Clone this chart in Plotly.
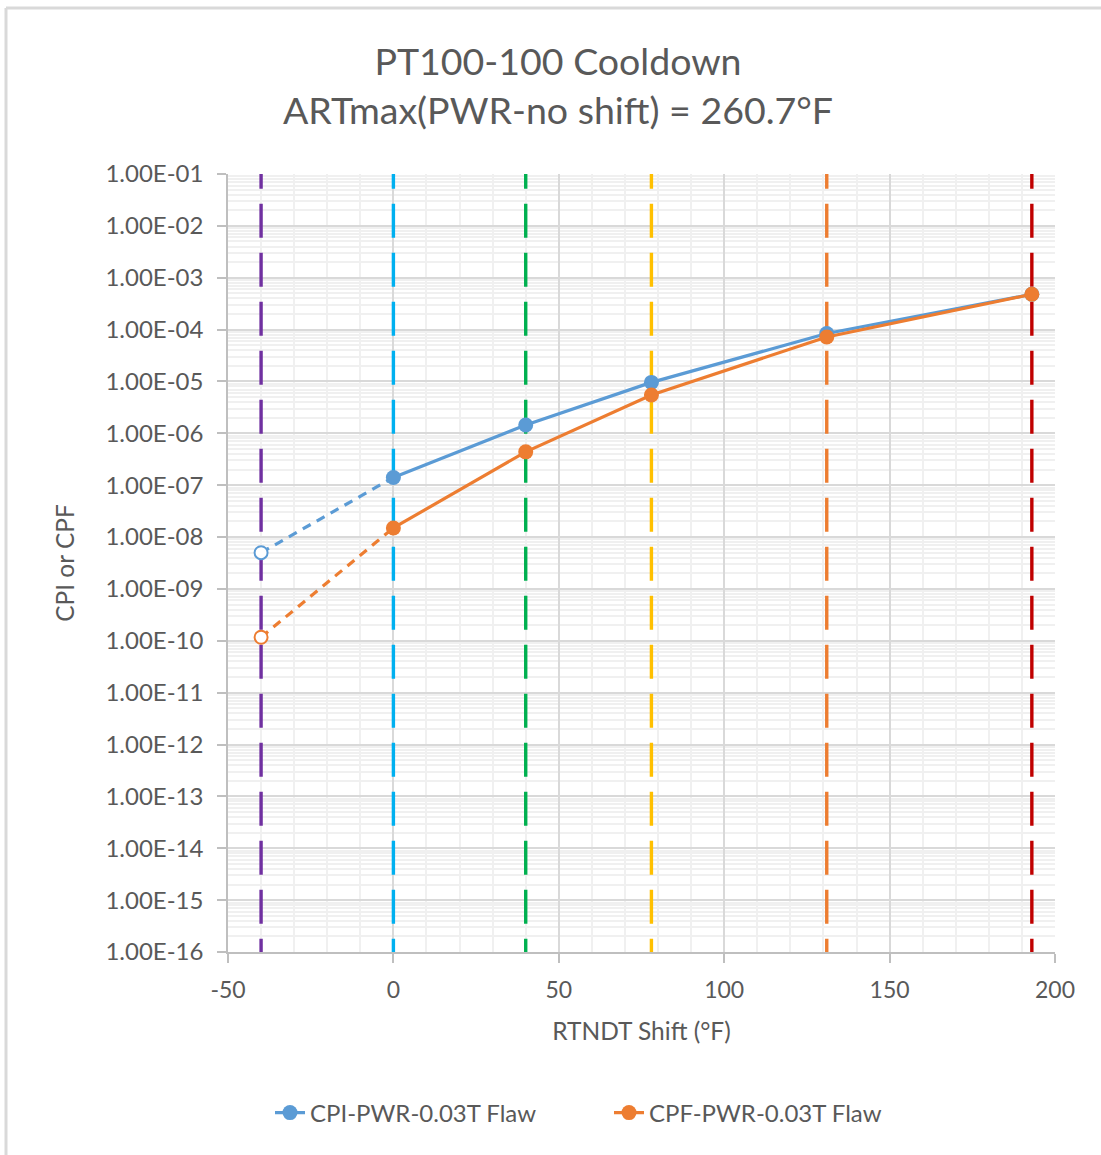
import plotly.graph_objects as go

# RT_NDT shift values (°F) at which the probabilities were evaluated
shift_f = [-40, 0, 40, 78, 131, 193]
cpi = [5.0e-9, 1.41e-7, 1.45e-6, 9.6e-6, 8.4e-5, 4.8e-4]
cpf = [1.17e-10, 1.5e-8, 4.4e-7, 5.5e-6, 7.2e-5, 4.8e-4]

# Reference shift markers (vertical dashed lines)
marker_shifts = [-40, 0, 40, 78, 131, 193]
marker_colors = ["#7030A0", "#00B0F0", "#00B050", "#FFC000", "#ED7D31", "#C00000"]

# Y-axis decades and tick labels
decades = list(range(-16, 0))
tick_vals = [10.0 ** d for d in decades]
tick_text = ["1.00E-%02d" % (-d) for d in decades]

# X-axis ticks (plain hyphen for negatives)
x_ticks = [-50, 0, 50, 100, 150, 200]
x_tick_text = [str(v) for v in x_ticks]

BLUE = "#5B9BD5"
ORANGE = "#ED7D31"
TEXT = "#595959"
FONT = "Lato"

W, H = 1101, 1155
L, R, T, B = 228, 46, 174, 203

fig = go.Figure()

# dash phase: start the pattern slightly above the top so it is clipped there
y_lo, y_top = 1e-16, 10 ** (-0.63)
for xs, col in zip(marker_shifts, marker_colors):
    fig.add_trace(go.Scatter(
        x=[xs, xs], y=[y_top, y_lo], mode="lines",
        line=dict(color=col, width=3.4, dash="34px,15px"),
        showlegend=False, hoverinfo="skip",
    ))

# Extrapolated segment (dashed) from the first point to the second
for vals, col in ((cpi, BLUE), (cpf, ORANGE)):
    fig.add_trace(go.Scatter(
        x=shift_f[:2], y=vals[:2], mode="lines",
        line=dict(color=col, width=3.2, dash="9px,7px"),
        showlegend=False, hoverinfo="skip",
    ))
    fig.add_trace(go.Scatter(
        x=shift_f[:1], y=vals[:1], mode="markers",
        marker=dict(size=13, color="white", line=dict(color=col, width=2)),
        showlegend=False, hoverinfo="skip",
    ))

fig.add_trace(go.Scatter(
    x=shift_f[1:], y=cpi[1:], mode="lines+markers", name="CPI-PWR-0.03T Flaw",
    line=dict(color=BLUE, width=3.2), marker=dict(size=15, color=BLUE),
))
fig.add_trace(go.Scatter(
    x=shift_f[1:], y=cpf[1:], mode="lines+markers", name="CPF-PWR-0.03T Flaw",
    line=dict(color=ORANGE, width=3.2), marker=dict(size=15, color=ORANGE),
))

minor_vals = [m * 10.0 ** d for d in range(-16, -1) for m in range(2, 10)]

# Outer chart border
px = lambda v: (v - L) / (W - L - R)
py = lambda v: (H - B - v) / (H - T - B)
border = dict(type="line", xref="paper", yref="paper",
              line=dict(color="#D9D9D9", width=3), layer="below")
shapes = [
    dict(border, x0=px(6), x1=px(W + 5), y0=py(8), y1=py(8)),
    dict(border, x0=px(6), x1=px(6), y0=py(8), y1=py(H + 5)),
]

fig.update_layout(
    width=W, height=H,
    margin=dict(l=L, r=R, t=T, b=B),
    paper_bgcolor="white", plot_bgcolor="white",
    font=dict(family=FONT, color=TEXT),
    title=dict(
        text="PT100-100 Cooldown<br>ARTmax(PWR-no shift) = 260.7°F",
        x=558 / W, xanchor="center", xref="container",
        y=1 - 75 / H, yanchor="middle", yref="container",
        font=dict(family=FONT, size=37.5, color=TEXT),
    ),
    xaxis=dict(
        range=[-50, 200], tickvals=x_ticks, ticktext=x_tick_text,
        showgrid=True, gridcolor="#D9D9D9", gridwidth=1.5,
        minor=dict(dtick=10, showgrid=True, gridcolor="#F0F0F0", gridwidth=1.5),
        showline=True, linecolor="#BFBFBF", linewidth=1.5, mirror=False,
        ticks="outside", ticklen=9, tickcolor="#BFBFBF", tickwidth=1.5,
        tickfont=dict(size=23, color=TEXT), ticklabelstandoff=8,
        title=dict(text="RTNDT Shift (°F)", font=dict(size=24.5, color=TEXT), standoff=21),
        zeroline=False,
    ),
    yaxis=dict(
        type="log", range=[-16, -1], tickvals=tick_vals + [1e-1],
        ticktext=tick_text + ["1.00E-01"],
        showgrid=True, gridcolor="#D9D9D9", gridwidth=1.5,
        minor=dict(tickvals=minor_vals, showgrid=True, gridcolor="#F0F0F0",
                   gridwidth=1.5, ticks=""),
        showline=True, linecolor="#BFBFBF", linewidth=1.5,
        ticks="outside", ticklen=9, tickcolor="#BFBFBF", tickwidth=1.5,
        tickfont=dict(size=24, color=TEXT), ticklabelstandoff=9,
        title=dict(text="CPI or CPF", font=dict(size=24.5, color=TEXT), standoff=24),
        zeroline=False,
    ),
    legend=dict(
        orientation="h", x=px(270), xanchor="left", y=py(1113), yanchor="middle",
        font=dict(size=24, color=TEXT), entrywidth=294, entrywidthmode="pixels",
        bgcolor="rgba(0,0,0,0)",
    ),
    shapes=shapes,
)

fig.write_html("out.html")
